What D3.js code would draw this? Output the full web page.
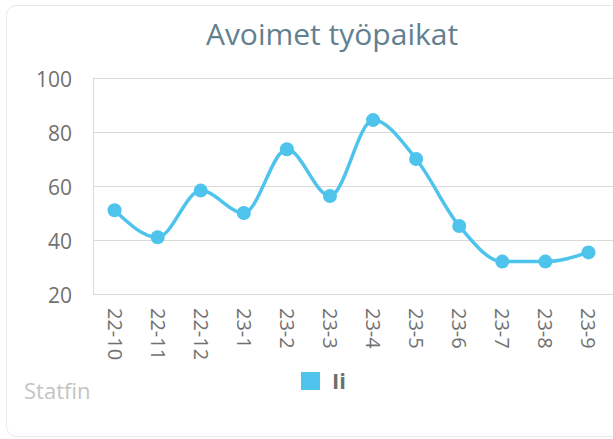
<!DOCTYPE html>
<html><head><meta charset="utf-8">
<script src="https://cdn.jsdelivr.net/npm/d3@7"></script>
<style>
html,body{margin:0;padding:0;background:#fff;}
svg{display:block;font-family:"Open Sans",sans-serif;}
</style></head>
<body>
<svg id="c" width="613" height="439"></svg>
<script>
const categories = ["22-10","22-11","22-12","23-1","23-2","23-3","23-4","23-5","23-6","23-7","23-8","23-9"];
const seriesValues = [51, 41, 58.3, 50, 73.6, 56.3, 84.4, 70, 45.2, 32, 32, 35.4];
const yTicks = [20, 40, 60, 80, 100];
const seriesName = "Ii";
const title = "Avoimet työpaikat";
const credit = "Statfin";

(function(){
const svg = d3.select("#c");
const color = "#4ec3ec";
const pLeft = 93, pRight = 610, pTop = 78, pBottom = 294;

svg.append("rect").attr("x",6.5).attr("y",5.5).attr("width",640).attr("height",431)
  .attr("rx",10).attr("fill","#fff").attr("stroke","#e8e8e8").attr("stroke-width",1);

svg.append("text").attr("x",332).attr("y",45).attr("text-anchor","middle")
  .attr("font-size",30).attr("fill","#62808f").text(title);

const x = d3.scaleBand().domain(categories).range([pLeft, pRight]);
const y = d3.scaleLinear().domain([20,100]).range([pBottom, pTop]);

svg.append("g").selectAll("line").data(yTicks).join("line")
  .attr("x1",pLeft).attr("x2",613).attr("y1",d=>y(d)+0.5).attr("y2",d=>y(d)+0.5)
  .attr("stroke","#d9d9d9").attr("stroke-width",1);
svg.append("line").attr("x1",pLeft+0.5).attr("x2",pLeft+0.5).attr("y1",pTop).attr("y2",pBottom)
  .attr("stroke","#d9d9d9");

svg.append("g").selectAll("text").data(yTicks).join("text")
  .attr("x",72).attr("y",d=>y(d)+8.5).attr("text-anchor","end")
  .attr("font-size",21).attr("fill","#717171").text(d=>d);

svg.append("g").selectAll("text").data(categories).join("text")
  .attr("transform",d=>`translate(${x(d)+x.bandwidth()/2-7},308) rotate(90)`)
  .attr("text-anchor","start").attr("font-size",20).attr("fill","#717171")
  .text(d=>d);

const line = d3.line().x((d,i)=>x(categories[i])+x.bandwidth()/2).y(d=>y(d)).curve(d3.curveMonotoneX);
svg.append("path").datum(seriesValues).attr("d",line).attr("fill","none")
  .attr("stroke",color).attr("stroke-width",3.5);
svg.append("g").selectAll("circle").data(seriesValues).join("circle")
  .attr("cx",(d,i)=>x(categories[i])+x.bandwidth()/2).attr("cy",d=>y(d)).attr("r",7)
  .attr("fill",color);

svg.append("rect").attr("x",301).attr("y",372).attr("width",19).attr("height",18).attr("fill",color);
svg.append("text").attr("x",332).attr("y",389).attr("font-size",22).attr("font-weight","bold")
  .attr("fill","#6f6f6f").text(seriesName);

svg.append("text").attr("x",24).attr("y",399).attr("font-size",22).attr("fill","#c4c4c4").text(credit);
})();
</script>
</body></html>
